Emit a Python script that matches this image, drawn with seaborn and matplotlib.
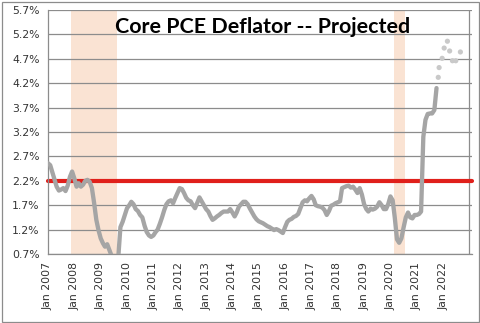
import matplotlib
matplotlib.use("Agg")
import matplotlib.pyplot as plt
from matplotlib.patches import Rectangle
import seaborn as sns
import pandas as pd

# ---- data ----
start_month = "2007-01-01"
core_pce = [
    # 2007
    2.56, 2.52, 2.38, 2.22, 2.08, 2.00, 2.02, 2.05, 1.99, 2.10, 2.28, 2.39,
    # 2008
    2.25, 2.08, 2.15, 2.08, 2.12, 2.20, 2.22, 2.18, 2.05, 1.75, 1.40, 1.19,
    # 2009
    1.02, 0.92, 0.85, 0.90, 0.78, 0.66, 0.50, 0.45, 0.62, 1.25, 1.36, 1.50,
    # 2010
    1.64, 1.70, 1.77, 1.72, 1.62, 1.58, 1.50, 1.45, 1.28, 1.15, 1.08, 1.05,
    # 2011
    1.08, 1.15, 1.20, 1.32, 1.45, 1.60, 1.72, 1.78, 1.80, 1.74, 1.85, 1.95,
    # 2012
    2.05, 2.03, 1.95, 1.85, 1.80, 1.78, 1.70, 1.64, 1.75, 1.86, 1.78, 1.70,
    # 2013
    1.62, 1.57, 1.48, 1.40, 1.43, 1.47, 1.50, 1.54, 1.57, 1.57, 1.57, 1.62,
    # 2014
    1.55, 1.47, 1.55, 1.67, 1.72, 1.77, 1.77, 1.72, 1.63, 1.55, 1.47, 1.41,
    # 2015
    1.37, 1.35, 1.33, 1.30, 1.27, 1.25, 1.22, 1.19, 1.21, 1.19, 1.16, 1.13,
    # 2016
    1.25, 1.36, 1.40, 1.42, 1.46, 1.48, 1.52, 1.64, 1.76, 1.80, 1.78, 1.84,
    # 2017
    1.89, 1.82, 1.70, 1.68, 1.67, 1.65, 1.60, 1.50, 1.58, 1.69, 1.71, 1.74,
    # 2018
    1.76, 1.78, 2.05, 2.07, 2.09, 2.10, 2.06, 2.08, 2.02, 1.95, 2.05, 1.92,
    # 2019
    1.72, 1.62, 1.57, 1.63, 1.61, 1.63, 1.67, 1.76, 1.70, 1.62, 1.62, 1.72,
    # 2020
    1.88, 1.80, 1.45, 1.00, 0.93, 1.02, 1.24, 1.45, 1.55, 1.45, 1.43, 1.50,
    # 2021
    1.50, 1.52, 1.57, 3.10, 3.45, 3.57, 3.58, 3.58, 3.65, 4.10,
]
proj_dates = ["2021-10-25", "2021-11-06", "2021-12-18", "2022-01-15", "2022-03-01",
              "2022-04-01", "2022-05-10", "2022-06-25", "2022-08-28"]
proj_values = [4.32, 4.52, 4.71, 4.92, 5.06, 4.86, 4.66, 4.66, 4.84]
target = 2.2
recessions = [("2007-11-15", "2009-08-12"), ("2020-02-15", "2020-07-20")]
y_ticks = [0.7, 1.2, 1.7, 2.2, 2.7, 3.2, 3.7, 4.2, 4.7, 5.2, 5.7]
x_years = list(range(2007, 2023))
title = "Core PCE Deflator -- Projected"

df = pd.DataFrame({
    "date": pd.date_range(start_month, periods=len(core_pce), freq="MS"),
    "value": core_pce,
})
proj = pd.DataFrame({"date": pd.to_datetime(proj_dates), "value": proj_values})

# ---- figure ----
sns.set_style("white")
plt.rcParams["font.family"] = ["DejaVu Sans"]
fig = plt.figure(figsize=(4.8, 3.23), dpi=100)
fig.patch.set_facecolor("white")
ax = fig.add_axes([48 / 480, 1 - 254 / 323, 424 / 480, 244 / 323])

for s, e in recessions:
    ax.axvspan(pd.Timestamp(s), pd.Timestamp(e), color="#FAE3D3", lw=0, zorder=0)

ax.axhline(target, color="#E0201B", lw=3.0, zorder=2, clip_on=False)

sns.lineplot(data=df, x="date", y="value", ax=ax, color="#A5A5A5", lw=3.1,
             zorder=3, solid_capstyle="round")
sns.scatterplot(data=proj, x="date", y="value", ax=ax, color="#C9C9C9", s=14,
                edgecolor="none", zorder=3)

ax.set_ylim(y_ticks[0], y_ticks[-1])
ax.set_yticks(y_ticks)
ax.set_yticklabels([f"{v:.1f}%" for v in y_ticks])
ax.set_xlim(pd.Timestamp("2007-01-01"), pd.Timestamp("2023-02-05"))
ax.set_xticks([pd.Timestamp(f"{y}-01-01") for y in x_years])
ax.set_xticklabels([f"Jan {y}" for y in x_years], rotation=90)
ax.set_xlabel("")
ax.set_ylabel("")

ax.grid(axis="y", color="#8C8C8C", lw=0.9)
ax.grid(axis="x", visible=False)
ax.set_axisbelow(True)
ax.axvline(pd.Timestamp("2022-12-20"), color="#8C8C8C", lw=0.9, zorder=1)
for side in ["top", "right"]:
    ax.spines[side].set_visible(False)
for side in ["left", "bottom"]:
    ax.spines[side].set_color("#8C8C8C")
    ax.spines[side].set_linewidth(0.9)
ax.tick_params(axis="both", which="major", length=4, width=0.9, color="#8C8C8C",
               labelsize=7.8, labelcolor="#333333", direction="out", pad=2)

ax.text(0.505, 0.906, title, transform=ax.transAxes, ha="center", va="baseline",
        fontsize=15.4, fontweight="bold", family=["Lato", "DejaVu Sans"], color="black")

fig.add_artist(Rectangle((1.5 / 480, 1.5 / 323), 477 / 480, 320 / 323,
                         transform=fig.transFigure, fill=False,
                         edgecolor="#8C8C8C", lw=0.9))

fig.savefig("out.png", dpi=100)
